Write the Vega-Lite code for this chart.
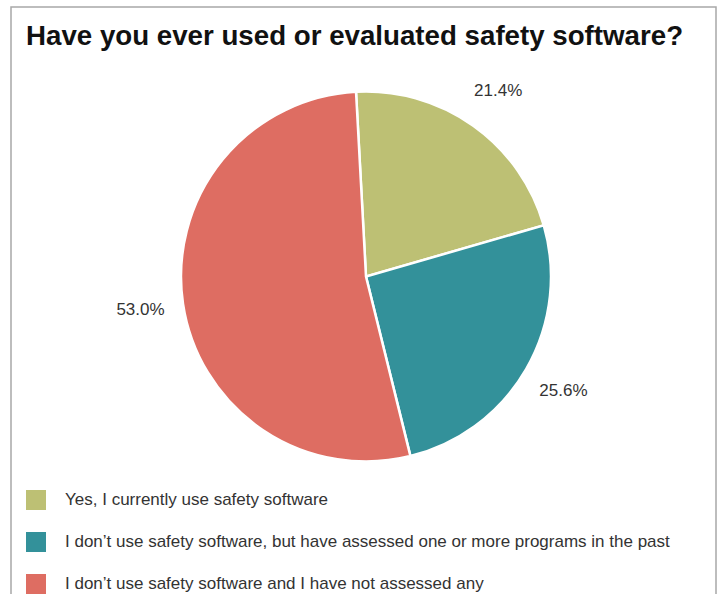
{
  "$schema": "https://vega.github.io/schema/vega-lite/v6.json",
  "autosize": "none",
  "width": 705,
  "height": 600,
  "padding": {"left": 11, "top": 7, "right": 4, "bottom": 0},
  "background": "white",
  "view": {"stroke": "#a8a8a8", "strokeWidth": 1.5},
  "config": {
    "view": {"stroke": "#a8a8a8", "strokeWidth": 1.5}
  },
  "title": {
    "text": "Have you ever used or evaluated safety software?",
    "anchor": "start",
    "frame": "group",
    "orient": "top",
    "offset": -66,
    "baseline": "alphabetic",
    "dx": 15,
    "font": "Liberation Sans",
    "fontSize": 27.7,
    "fontWeight": "bold",
    "color": "#111111"
  },
  "data": {
    "values": [
      {"answer": "Yes, I currently use safety software", "pct": 21.4, "label": "21.4%", "ord": 1},
      {"answer": "I don’t use safety software, but have assessed one or more programs in the past", "pct": 25.6, "label": "25.6%", "ord": 2},
      {"answer": "I don’t use safety software and I have not assessed any", "pct": 53.0, "label": "53.0%", "ord": 3}
    ]
  },
  "encoding": {
    "theta": {"field": "pct", "type": "quantitative", "stack": true, "scale": {"range": [-0.054, 6.2292]}},
    "order": {"field": "ord", "type": "quantitative"}
  },
  "layer": [
    {
      "mark": {"type": "arc", "x": 355, "y": 269.5, "outerRadius": 185, "stroke": "white", "strokeWidth": 2.5},
      "encoding": {
        "color": {
          "field": "answer",
          "type": "nominal",
          "scale": {
            "domain": [
              "Yes, I currently use safety software",
              "I don’t use safety software, but have assessed one or more programs in the past",
              "I don’t use safety software and I have not assessed any"
            ],
            "range": ["#bdc074", "#33919a", "#de6d62"]
          },
          "legend": {
            "title": null,
            "orient": "none",
            "legendX": 15,
            "legendY": 483,
            "direction": "vertical",
            "symbolType": "square",
            "symbolSize": 400,
            "symbolStrokeWidth": 0,
            "symbolOpacity": 1,
            "labelOffset": 19,
            "rowPadding": 22,
            "labelFont": "Liberation Sans",
            "labelFontSize": 17,
            "labelColor": "#333333",
            "labelLimit": 0,
            "padding": 0
          }
        }
      }
    },
    {
      "mark": {"type": "text", "x": 355, "y": 269.5, "radius": 228, "font": "Liberation Sans", "fontSize": 17, "color": "#333333", "align": "center", "baseline": "middle"},
      "encoding": {
        "text": {"field": "label", "type": "nominal"}
      }
    }
  ]
}
